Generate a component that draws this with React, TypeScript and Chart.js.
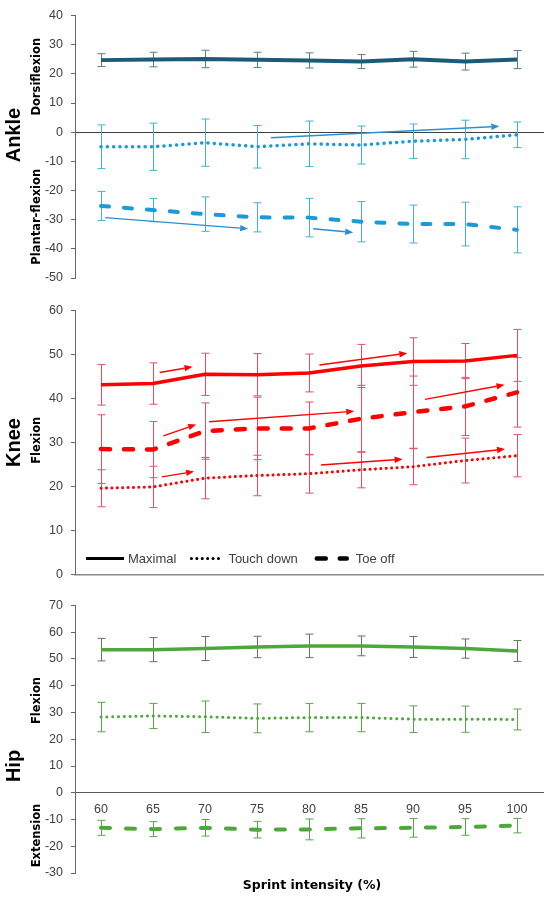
import React, { useEffect, useRef } from "react";
import Chart from "chart.js/auto";

// sprint intensity categories (%)
const intensities = ["60", "65", "70", "75", "80", "85", "90", "95", "100"];

// ankle (deg), mean and SD
const ankleDorsi = [24.7, 24.9, 25.1, 24.8, 24.6, 24.2, 25.0, 24.2, 24.9];
const ankleDorsiSd = [2.2, 2.5, 3.0, 2.6, 2.6, 2.4, 2.7, 2.9, 3.1];
const ankleTouch = [-5.0, -5.0, -3.6, -5.0, -4.0, -4.4, -3.1, -2.5, -0.9];
const ankleTouchSd = [7.5, 8.1, 8.1, 7.3, 7.8, 6.5, 5.9, 6.6, 4.4];
const ankleToe = [-25.3, -26.7, -28.1, -29.2, -29.3, -30.7, -31.5, -31.5, -33.5];
const ankleToeSd = [5.0, 4.0, 5.9, 5.0, 6.6, 6.9, 6.5, 7.5, 7.9];

// knee (deg)
const kneeMax = [43.1, 43.4, 45.5, 45.4, 45.8, 47.4, 48.4, 48.5, 49.8];
const kneeMaxSd = [4.6, 4.7, 4.8, 4.8, 4.3, 4.9, 5.4, 4.0, 5.9];
const kneeTouch = [19.6, 19.9, 21.9, 22.5, 22.9, 23.8, 24.5, 25.9, 27.0];
const kneeTouchSd = [4.2, 4.7, 4.7, 4.6, 4.4, 4.1, 4.1, 5.1, 4.8];
const kneeToe = [28.5, 28.4, 32.6, 33.2, 33.2, 35.4, 36.9, 38.2, 41.4];
const kneeToeSd = [7.8, 6.4, 6.4, 7.1, 6.0, 7.6, 8.2, 6.6, 7.9];

// hip (deg)
const hipMax = [53.5, 53.5, 53.9, 54.5, 54.9, 54.9, 54.5, 53.9, 53.0];
const hipMaxSd = [4.2, 4.5, 4.5, 4.0, 4.4, 3.7, 3.9, 3.6, 3.9];
const hipTouch = [28.3, 28.7, 28.4, 27.8, 28.1, 28.1, 27.5, 27.5, 27.4];
const hipTouchSd = [5.5, 4.7, 5.9, 5.4, 5.3, 5.3, 5.0, 4.9, 3.9];
const hipToe = [-13.1, -13.6, -13.1, -13.8, -13.7, -13.3, -13.1, -12.8, -12.3];
const hipToeSd = [2.8, 2.8, 3.1, 3.1, 3.9, 3.6, 3.5, 3.1, 2.7];

// trend arrows: [fromIndex, fromValue, toIndex, toValue]
const ankleArrows = [
  [0.08, -29.3, 2.83, -33.1],
  [4.08, -33.1, 4.85, -34.4],
  [3.27, -1.9, 7.66, 2.0],
];
const kneeArrows = [
  [1.13, 45.9, 1.76, 47.2],
  [1.2, 31.5, 1.83, 34.1],
  [1.17, 22.2, 1.79, 23.4],
  [2.08, 34.7, 4.87, 37.1],
  [4.2, 47.6, 5.89, 50.3],
  [6.23, 39.8, 7.76, 43.1],
  [4.23, 24.9, 5.8, 26.2],
  [6.26, 26.6, 7.77, 28.5],
];

const legendLabels = ["Maximal", "Touch down", "Toe off"];

const SANS = '"Liberation Sans", Arial, sans-serif';
const DEJA = '"DejaVu Sans", sans-serif';
const TEXT = "#404040";

const errorBars = {
  id: "errorBars",
  beforeDatasetsDraw(chart: any) {
    const { ctx } = chart;
    const y = chart.scales.y;
    chart.data.datasets.forEach((ds: any, di: number) => {
      if (!ds.sd) return;
      const meta = chart.getDatasetMeta(di);
      ctx.save();
      ctx.strokeStyle = ds.errorColor;
      ctx.lineWidth = 1;
      meta.data.forEach((pt: any, i: number) => {
        const v = ds.data[i];
        const top = y.getPixelForValue(v + ds.sd[i]);
        const bot = y.getPixelForValue(v - ds.sd[i]);
        const x = Math.round(pt.x) + 0.5;
        ctx.beginPath();
        ctx.moveTo(x, top);
        ctx.lineTo(x, bot);
        ctx.moveTo(x - 4, top);
        ctx.lineTo(x + 4, top);
        ctx.moveTo(x - 4, bot);
        ctx.lineTo(x + 4, bot);
        ctx.stroke();
      });
      ctx.restore();
    });
  },
};

function drawArrow(ctx: CanvasRenderingContext2D, x0: number, y0: number, x1: number, y1: number, color: string) {
  const a = Math.atan2(y1 - y0, x1 - x0);
  const head = 8;
  const hw = 3.2;
  const bx = x1 - head * Math.cos(a);
  const by = y1 - head * Math.sin(a);
  ctx.strokeStyle = color;
  ctx.fillStyle = color;
  ctx.lineWidth = 1.4;
  ctx.beginPath();
  ctx.moveTo(x0, y0);
  ctx.lineTo(bx, by);
  ctx.stroke();
  ctx.beginPath();
  ctx.moveTo(x1, y1);
  ctx.lineTo(bx - hw * Math.sin(a), by + hw * Math.cos(a));
  ctx.lineTo(bx + hw * Math.sin(a), by - hw * Math.cos(a));
  ctx.closePath();
  ctx.fill();
}

type SideLabel = { text: string; value: number; x: number; font: string };

function overlay(opts: {
  arrows?: number[][];
  arrowColor?: string;
  labels: SideLabel[];
  legend?: boolean;
  xTitle?: string;
}) {
  return {
    id: "overlay",
    afterDatasetsDraw(chart: any) {
      const { ctx } = chart;
      const xs = chart.scales.x;
      const ys = chart.scales.y;
      ctx.save();
      (opts.arrows || []).forEach((a) =>
        drawArrow(
          ctx,
          xs.getPixelForValue(a[0]),
          ys.getPixelForValue(a[1]),
          xs.getPixelForValue(a[2]),
          ys.getPixelForValue(a[3]),
          opts.arrowColor || "#000"
        )
      );
      ctx.restore();
    },
    afterDraw(chart: any) {
      const { ctx, chartArea } = chart;
      const ys = chart.scales.y;
      ctx.save();
      ctx.fillStyle = "#000";
      ctx.textAlign = "center";
      ctx.textBaseline = "middle";
      opts.labels.forEach((l) => {
        ctx.save();
        ctx.translate(l.x, ys.getPixelForValue(l.value));
        ctx.rotate(-Math.PI / 2);
        ctx.font = l.font;
        ctx.fillText(l.text, 0, 0);
        ctx.restore();
      });
      if (opts.xTitle) {
        ctx.font = "bold 12.5px " + DEJA;
        ctx.fillText(opts.xTitle, (chartArea.left + chartArea.right) / 2 + 3, chartArea.bottom + 13);
      }
      if (opts.legend) {
        const styles = [
          { dash: [], width: 3, cap: "butt", len: 38, gap: 4, after: 13 },
          { dash: [0.1, 5.3], width: 3, cap: "round", len: 34, gap: 5, after: 17 },
          { dash: [9, 14], width: 4.5, cap: "round", len: 32, gap: 9, after: 0 },
        ];
        const yy = chartArea.bottom - 16;
        let cx = chartArea.left + 11;
        ctx.font = "13px " + SANS;
        ctx.textAlign = "left";
        legendLabels.forEach((lab, i) => {
          const s = styles[i];
          ctx.strokeStyle = "#000";
          ctx.lineWidth = s.width;
          ctx.lineCap = s.cap;
          ctx.setLineDash(s.dash);
          ctx.beginPath();
          ctx.moveTo(cx + (s.cap === "round" ? 2 : 0), yy);
          ctx.lineTo(cx + s.len, yy);
          ctx.stroke();
          ctx.setLineDash([]);
          cx += s.len + s.gap;
          ctx.fillStyle = TEXT;
          ctx.fillText(lab, cx, yy + 1);
          cx += ctx.measureText(lab).width + s.after;
        });
      }
      ctx.restore();
    },
  };
}

function line(data: number[], sd: number[], color: string, errorColor: string, style: any) {
  return {
    data,
    sd,
    errorColor,
    borderColor: color,
    backgroundColor: color,
    pointRadius: 0,
    tension: 0,
    fill: false,
    borderJoinStyle: "round",
    ...style,
  };
}

function panel(p: {
  datasets: any[];
  min: number;
  max: number;
  padTop: number;
  padBottom: number;
  showX: boolean;
  zeroColor: string;
  zeroWidth: number;
  plugin: any;
}) {
  return {
    type: "line",
    data: { labels: intensities, datasets: p.datasets },
    options: {
      responsive: false,
      animation: false,
      events: [],
      layout: { padding: { top: p.padTop, bottom: p.padBottom, left: 0, right: 7 } },
      plugins: { legend: { display: false }, tooltip: { enabled: false } },
      scales: {
        x: {
          type: "category",
          offset: true,
          position: { y: 0 },
          grid: { display: false, drawTicks: false },
          border: { display: true, color: p.zeroColor, width: p.zeroWidth },
          ticks: {
            display: p.showX,
            autoSkip: false,
            maxRotation: 0,
            padding: 9,
            color: TEXT,
            font: { family: SANS, size: 12.5 },
          },
        },
        y: {
          min: p.min,
          max: p.max,
          afterFit: (s: any) => {
            s.width = 75;
          },
          ticks: { stepSize: 10, padding: 8, color: TEXT, font: { family: SANS, size: 12.5 } },
          grid: { drawOnChartArea: false, drawTicks: true, tickLength: 4, color: "#666" },
          border: { display: true, color: "#666", width: 1 },
        },
      },
    },
    plugins: [errorBars, p.plugin],
  };
}

const dotted = (w: number, gap: number) => ({ borderWidth: w, borderDash: [0.1, gap], borderCapStyle: "round" });
const dashed = (w: number, on: number, off: number) => ({ borderWidth: w, borderDash: [on, off], borderCapStyle: "round" });

const ankleBlue = "#1c9ad6";
const ankleConfig = panel({
  datasets: [
    line(ankleDorsi, ankleDorsiSd, "#1d5a78", "#55808f", { borderWidth: 4 }),
    line(ankleTouch, ankleTouchSd, ankleBlue, "#45b0d8", dotted(3.5, 6.2)),
    line(ankleToe, ankleToeSd, ankleBlue, "#45b0d8", dashed(4, 8, 15)),
  ],
  min: -50,
  max: 40,
  padTop: 12,
  padBottom: 17,
  showX: false,
  zeroColor: "#404040",
  zeroWidth: 1,
  plugin: overlay({
    arrows: ankleArrows,
    arrowColor: "#2a8fd0",
    labels: [
      { text: "Ankle", value: -1, x: 14, font: "bold 20px " + SANS },
      { text: "Dorsiflexion", value: 19, x: 37, font: "bold 11.5px " + DEJA },
      { text: "Plantar-flexion", value: -29, x: 37, font: "bold 11.5px " + DEJA },
    ],
  }),
});

const kneeRed = "#ff0000";
const kneeConfig = panel({
  datasets: [
    line(kneeMax, kneeMaxSd, kneeRed, "#e0506a", { borderWidth: 3.5 }),
    line(kneeTouch, kneeTouchSd, kneeRed, "#e0506a", dotted(3, 5.3)),
    line(kneeToe, kneeToeSd, kneeRed, "#e0506a", dashed(4.5, 9, 14)),
  ],
  min: 0,
  max: 60,
  padTop: 14,
  padBottom: 14,
  showX: false,
  zeroColor: "#8a8a8a",
  zeroWidth: 1.5,
  plugin: overlay({
    arrows: kneeArrows,
    arrowColor: "#ff0000",
    legend: true,
    labels: [
      { text: "Knee", value: 30, x: 14, font: "bold 20px " + SANS },
      { text: "Flexion", value: 30.5, x: 37, font: "bold 11.5px " + DEJA },
    ],
  }),
});

const hipGreen = "#4ca83a";
const hipConfig = panel({
  datasets: [
    line(hipMax, hipMaxSd, hipGreen, "#5c7a58", { borderWidth: 3.5 }),
    line(hipTouch, hipTouchSd, hipGreen, "#5aa64a", dotted(3, 5.7)),
    line(hipToe, hipToeSd, hipGreen, "#5aa64a", dashed(4, 9, 16)),
  ],
  min: -30,
  max: 70,
  padTop: 15,
  padBottom: 29,
  showX: true,
  zeroColor: "#595959",
  zeroWidth: 1,
  plugin: overlay({
    xTitle: "Sprint intensity (%)",
    labels: [
      { text: "Hip", value: 10, x: 14, font: "bold 20px " + SANS },
      { text: "Flexion", value: 34.5, x: 37, font: "bold 11.5px " + DEJA },
      { text: "Extension", value: -16, x: 37, font: "bold 11.5px " + DEJA },
    ],
  }),
});

const Panel: React.FC<{ top: number; height: number; config: any }> = ({ top, height, config }) => {
  const ref = useRef<HTMLCanvasElement>(null);

  useEffect(() => {
    if (!ref.current) return;
    const chart = new Chart(ref.current, config);
    return () => {
      chart.destroy();
    };
  }, [config]);

  return (
    <canvas
      ref={ref}
      width={550}
      height={height}
      style={{ position: "absolute", left: 0, top, width: 550, height }}
    />
  );
};

export default function App() {
  return (
    <div style={{ position: "absolute", left: 0, top: 0, width: 550, height: 902, background: "#fff" }}>
      <Panel top={0} height={295} config={ankleConfig} />
      <Panel top={295} height={295} config={kneeConfig} />
      <Panel top={590} height={312} config={hipConfig} />
    </div>
  );
}
